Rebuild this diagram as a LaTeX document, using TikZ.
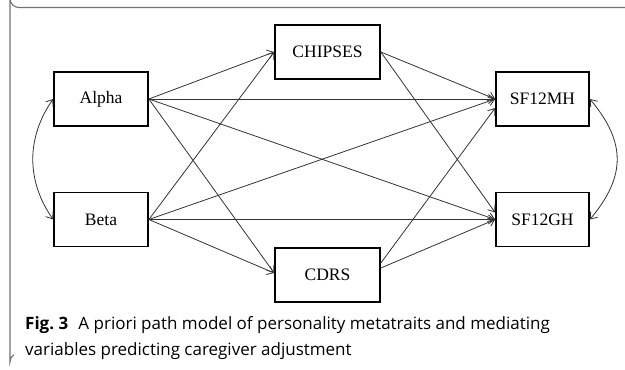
\documentclass[tikz,border=0pt]{standalone}
\usepackage{fontspec}
\setmainfont{Liberation Serif}
\newfontfamily\legende{Open Sans}
\usetikzlibrary{arrows.meta}
\begin{document}
\begin{tikzpicture}[x=1pt,y=-1pt]
% Styles
\tikzstyle{fleche}=[-{Straight Barb[length=6pt,width=9pt]},line width=0.8pt,draw=black!80]
\tikzstyle{covar}=[{Straight Barb[length=6pt,width=9pt]}-{Straight Barb[length=6pt,width=9pt]},line width=0.8pt,draw=black!80]
\tikzstyle{boite}=[draw,line width=1.7pt,minimum height=54pt,inner sep=0pt,font=\fontsize{17.5}{20}\selectfont]
\tikzstyle{cadre}=[draw=black!55,line width=1.1pt]
% Dimensions
\def\ColA{101}
\def\ColB{327.5}
\def\ColC{542.5}
\def\LigneA{99}
\def\LigneB{219.5}
\useasboundingbox (0,0) rectangle (625,370);
% Cadre
\draw[cadre] (625,7.5) -- (19,7.5) arc[start angle=90,end angle=180,radius=9] -- (10,362) arc[start angle=180,end angle=235,radius=9];
% Noeuds
\node[boite,minimum width=94pt] (Alpha) at (\ColA,\LigneA) {Alpha};
\node[boite,minimum width=94pt] (Beta) at (\ColA,\LigneB) {Beta};
\node[boite,minimum width=105pt] (CHIPSES) at (\ColB,52) {CHIPSES};
\node[boite,minimum width=105pt] (CDRS) at (\ColB,275) {CDRS};
\node[boite,minimum width=93pt] (SF12MH) at (\ColC,\LigneA) {SF12MH};
\node[boite,minimum width=93pt] (SF12GH) at (\ColC,\LigneB) {SF12GH};
% Arcs
\draw[fleche] (Alpha.east)--(CHIPSES.west);
\draw[fleche] (Alpha.east)--(SF12MH.west);
\draw[fleche] (Alpha.east)--(SF12GH.west);
\draw[fleche] (Alpha.east)--([yshift=2pt]CDRS.west);
\draw[fleche] (Beta.east)--(CHIPSES.west);
\draw[fleche] (Beta.east)--(SF12MH.west);
\draw[fleche] (Beta.east)--(SF12GH.west);
\draw[fleche] (Beta.east)--([yshift=2pt]CDRS.west);
\draw[fleche] (CHIPSES.east)--(SF12MH.west);
\draw[fleche] (CHIPSES.east)--([yshift=7pt]SF12GH.west);
\draw[fleche] ([yshift=12pt]CDRS.east)--([yshift=-9pt]SF12MH.west);
\draw[fleche] ([yshift=7pt]CDRS.east)--(SF12GH.west);
% Covariances
\draw[covar] (Alpha.west) to[out=-125,in=125] (Beta.west);
\draw[covar] (SF12MH.east) to[out=-50,in=50,looseness=1.2] (SF12GH.east);
% Legende
\node[anchor=base west,inner sep=0pt,align=left,font=\legende\fontsize{17}{25.5}\selectfont] (legende) at (25,355)
  {\textbf{Fig.~3}\hspace{0.6em}A priori path model of personality metatraits and mediating\\variables predicting caregiver adjustment};
\end{tikzpicture}
\end{document}
